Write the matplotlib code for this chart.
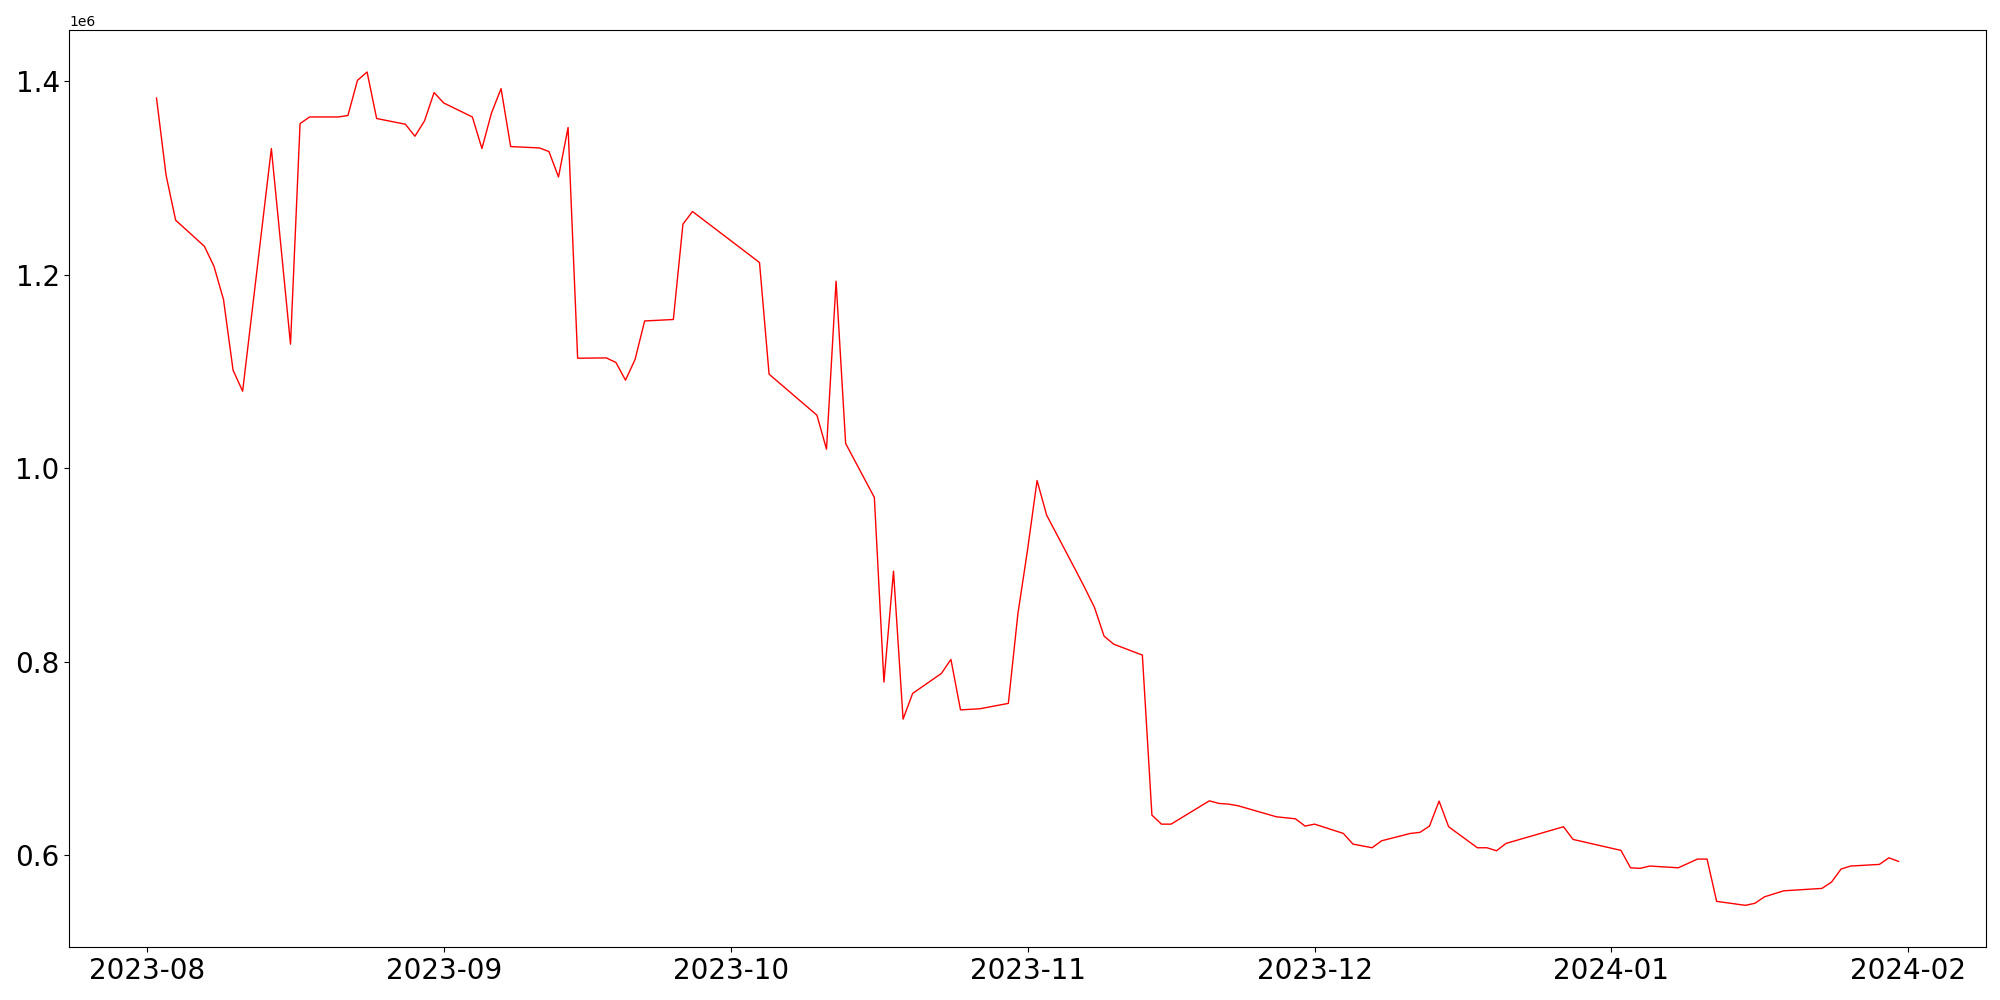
import matplotlib
matplotlib.use("Agg")
import matplotlib.pyplot as plt
import pandas as pd

dates = [
    "2023-08-02", "2023-08-03", "2023-08-04", "2023-08-07", "2023-08-08", "2023-08-09",
    "2023-08-10", "2023-08-11", "2023-08-14", "2023-08-16", "2023-08-17", "2023-08-18",
    "2023-08-21", "2023-08-22", "2023-08-23", "2023-08-24", "2023-08-25", "2023-08-28",
    "2023-08-29", "2023-08-30", "2023-08-31", "2023-09-01", "2023-09-04", "2023-09-05",
    "2023-09-06", "2023-09-07", "2023-09-08", "2023-09-11", "2023-09-12", "2023-09-13",
    "2023-09-14", "2023-09-15", "2023-09-18", "2023-09-19", "2023-09-20", "2023-09-21",
    "2023-09-22", "2023-09-25", "2023-09-26", "2023-09-27", "2023-10-04", "2023-10-05",
    "2023-10-10", "2023-10-11", "2023-10-12", "2023-10-13", "2023-10-16", "2023-10-17",
    "2023-10-18", "2023-10-19", "2023-10-20", "2023-10-23", "2023-10-24", "2023-10-25",
    "2023-10-27", "2023-10-30", "2023-10-31", "2023-11-01", "2023-11-02", "2023-11-03",
    "2023-11-06", "2023-11-07", "2023-11-08", "2023-11-09", "2023-11-10", "2023-11-13",
    "2023-11-14", "2023-11-15", "2023-11-16", "2023-11-20", "2023-11-21", "2023-11-22",
    "2023-11-23", "2023-11-27", "2023-11-29", "2023-11-30", "2023-12-01", "2023-12-04",
    "2023-12-05", "2023-12-07", "2023-12-08", "2023-12-11", "2023-12-12", "2023-12-13",
    "2023-12-14", "2023-12-15", "2023-12-18", "2023-12-19", "2023-12-20", "2023-12-21",
    "2023-12-27", "2023-12-28", "2024-01-02", "2024-01-03", "2024-01-04", "2024-01-05",
    "2024-01-08", "2024-01-10", "2024-01-11", "2024-01-12", "2024-01-15", "2024-01-16",
    "2024-01-17", "2024-01-19", "2024-01-23", "2024-01-24", "2024-01-25", "2024-01-26",
    "2024-01-29", "2024-01-30", "2024-01-31",
]

values = [
    1382400, 1302600, 1256100, 1229200, 1208600, 1174200,
    1101100, 1079400, 1330200, 1128000, 1356000, 1362800,
    1362800, 1364300, 1400700, 1409300, 1361200, 1355300,
    1342900, 1358700, 1388000, 1377300, 1362800, 1330200,
    1366900, 1392100, 1332200, 1330800, 1327100, 1300800,
    1351900, 1113500, 1113800, 1109100, 1090800, 1112200,
    1152000, 1153500, 1252000, 1265100, 1212400, 1097000,
    1054600, 1019500, 1193100, 1025400, 969600, 778800,
    893400, 740500, 767100, 787700, 802200, 750100,
    751200, 756800, 849700, 915100, 987100, 951300,
    895000, 875900, 855900, 826300, 818000, 806700,
    641300, 632000, 632000, 656100, 653400, 652700,
    651000, 639600, 637500, 630000, 632000, 622400,
    611400, 607600, 614800, 622400, 623500, 630000,
    655800, 629300, 607600, 607600, 604500, 612100,
    629300, 616200, 604900, 586900, 586300, 588700,
    586900, 595900, 595900, 552200, 548100, 550200,
    556900, 563100, 565600, 572100, 585600, 588700,
    590400, 597200, 593500,
]

x = pd.to_datetime(dates)

fig, ax = plt.subplots(figsize=(20, 10), dpi=100)
ax.plot(x, values, color="red", linewidth=1)
ax.tick_params(axis="both", labelsize=20)
plt.subplots_adjust(left=0.0347, right=0.9928, top=0.9697, bottom=0.053)
plt.savefig("out.png")
